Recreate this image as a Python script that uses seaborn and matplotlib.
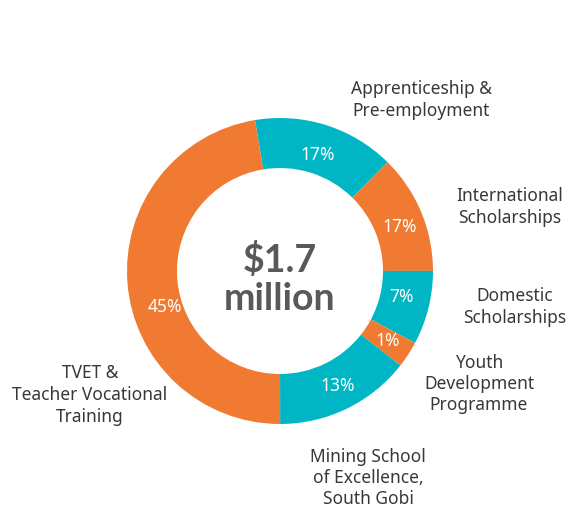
import matplotlib.pyplot as plt
import seaborn as sns

# slice sizes as drawn in the picture, and the percent text printed on them
categories = ['Apprenticeship &\nPre-employment', 'International\nScholarships',
              'Domestic\nScholarships', 'Youth\nDevelopment\nProgramme',
              'Mining School\nof Excellence,\nSouth Gobi',
              'TVET &\nTeacher Vocational\nTraining']
shares = [15.0, 12.6, 7.8, 2.8, 14.4, 47.4]
pct_labels = ['17%', '17%', '7%', '1%', '13%', '45%']
total_label = '$1.7\nmillion'

teal = '#00b6c5'
orange = '#f07a32'
colors = [teal, orange, teal, orange, teal, orange]

sns.set_theme(style='white')
plt.rcParams['font.family'] = ['Noto Sans', 'DejaVu Sans']

W, H = 571, 513
fig = plt.figure(figsize=(W / 100, H / 100), dpi=100)
ax = fig.add_axes([0, 0, 1, 1])

cx, cy = 280, H - 271
ax.pie(shares, colors=colors, center=(cx, cy), radius=153, startangle=99.4,
       counterclock=False, wedgeprops=dict(width=50, linewidth=0),
       frame=True)
ax.set_xlim(0, W)
ax.set_ylim(0, H)
ax.axis('off')

# percent labels inside the ring (pixel positions from the reference)
pct_pos = [(318, 155), (400, 227), (402, 297), (388, 341), (338, 386), (165, 307)]
for t, (x, y) in zip(pct_labels, pct_pos):
    ax.text(x, H - y, t, color='white', fontsize=12.5, ha='center', va='center')

# category labels around the ring
cat_pos = [(421, 100), (510, 207), (515, 307), (479, 384), (368, 478), (90, 395)]
for t, (x, y) in zip(categories, cat_pos):
    ax.text(x, H - y, t, color='#383838', fontsize=12.5, ha='center', va='center',
            linespacing=1.25)

ax.text(cx, H - 279, total_label, color='#58595b', fontsize=27, fontweight='bold',
        family=['Lato', 'DejaVu Sans'], ha='center', va='center', linespacing=1.15)

fig.savefig('out.png', dpi=100)
